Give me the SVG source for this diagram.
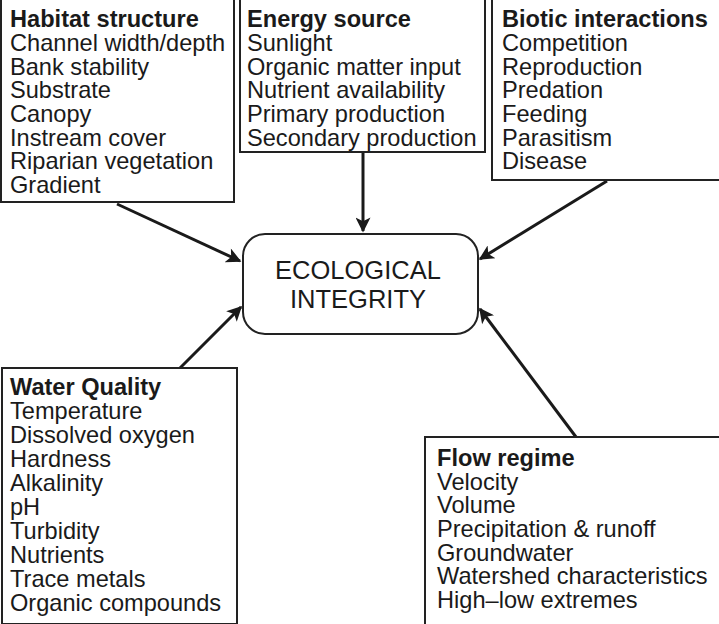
<svg xmlns="http://www.w3.org/2000/svg" width="719" height="624" viewBox="0 0 719 624">
<style>
.box{fill:#fff;stroke:#222;stroke-width:2}
.t{font-family:"Liberation Sans",Arial,sans-serif;font-size:23.6px;fill:#1a1a1a}
.b{font-weight:bold}
.c{font-family:"Liberation Sans",Arial,sans-serif;font-size:25.5px;fill:#1a1a1a;text-anchor:middle}
.arr{stroke:#1a1a1a;stroke-width:3;fill:none;marker-end:url(#ah)}
</style>
<defs>
<marker id="ah" viewBox="0 0 10 10" refX="9" refY="5" markerWidth="6" markerHeight="5" markerUnits="strokeWidth" orient="auto">
<path d="M0,0 L10,5 L0,10 L2.5,5 Z" fill="#1a1a1a"/>
</marker>
</defs>
<g id="connectors">
<line class="arr" x1="117" y1="204" x2="240" y2="261"/>
<line class="arr" x1="363" y1="153" x2="363" y2="231"/>
<line class="arr" x1="607" y1="181" x2="480" y2="259"/>
<line class="arr" x1="180" y1="368" x2="241" y2="307"/>
<line class="arr" x1="576" y1="437" x2="480" y2="309"/>
</g>
<g id="habitat">
<rect class="box" x="1" y="-2" width="233" height="204"/>
<text class="t"><tspan class="b" x="10" y="27">Habitat structure</tspan><tspan x="10" y="51">Channel width/depth</tspan><tspan x="10" y="74.5">Bank stability</tspan><tspan x="10" y="98">Substrate</tspan><tspan x="10" y="122">Canopy</tspan><tspan x="10" y="145.5">Instream cover</tspan><tspan x="10" y="169">Riparian vegetation</tspan><tspan x="10" y="192.5">Gradient</tspan></text>
</g>
<g id="energy">
<rect class="box" x="240" y="-2" width="245" height="154"/>
<text class="t"><tspan class="b" x="247" y="27">Energy source</tspan><tspan x="247" y="51">Sunlight</tspan><tspan x="247" y="74.5">Organic matter input</tspan><tspan x="247" y="98">Nutrient availability</tspan><tspan x="247" y="122">Primary production</tspan><tspan x="247" y="145.5">Secondary production</tspan></text>
</g>
<g id="biotic">
<rect class="box" x="492" y="-2" width="228" height="182"/>
<text class="t"><tspan class="b" x="502" y="27">Biotic interactions</tspan><tspan x="502" y="51">Competition</tspan><tspan x="502" y="74.5">Reproduction</tspan><tspan x="502" y="98">Predation</tspan><tspan x="502" y="122">Feeding</tspan><tspan x="502" y="145.5">Parasitism</tspan><tspan x="502" y="169">Disease</tspan></text>
</g>
<g id="center">
<rect class="box" x="243" y="234" width="235" height="100" rx="22" ry="22"/>
<text class="c" x="358" y="278.5">ECOLOGICAL</text>
<text class="c" x="358" y="307.5">INTEGRITY</text>
</g>
<g id="water">
<rect class="box" x="2" y="368" width="235" height="256"/>
<text class="t"><tspan class="b" x="10" y="395">Water Quality</tspan><tspan x="10" y="419">Temperature</tspan><tspan x="10" y="443">Dissolved oxygen</tspan><tspan x="10" y="467">Hardness</tspan><tspan x="10" y="491">Alkalinity</tspan><tspan x="10" y="515">pH</tspan><tspan x="10" y="539">Turbidity</tspan><tspan x="10" y="563">Nutrients</tspan><tspan x="10" y="587">Trace metals</tspan><tspan x="10" y="611">Organic compounds</tspan></text>
</g>
<g id="flow">
<rect class="box" x="425" y="437" width="295" height="188"/>
<text class="t"><tspan class="b" x="437" y="466">Flow regime</tspan><tspan x="437" y="489.5">Velocity</tspan><tspan x="437" y="513">Volume</tspan><tspan x="437" y="537">Precipitation &amp; runoff</tspan><tspan x="437" y="560.5">Groundwater</tspan><tspan x="437" y="584">Watershed characteristics</tspan><tspan x="437" y="608">High–low extremes</tspan></text>
</g>
</svg>
